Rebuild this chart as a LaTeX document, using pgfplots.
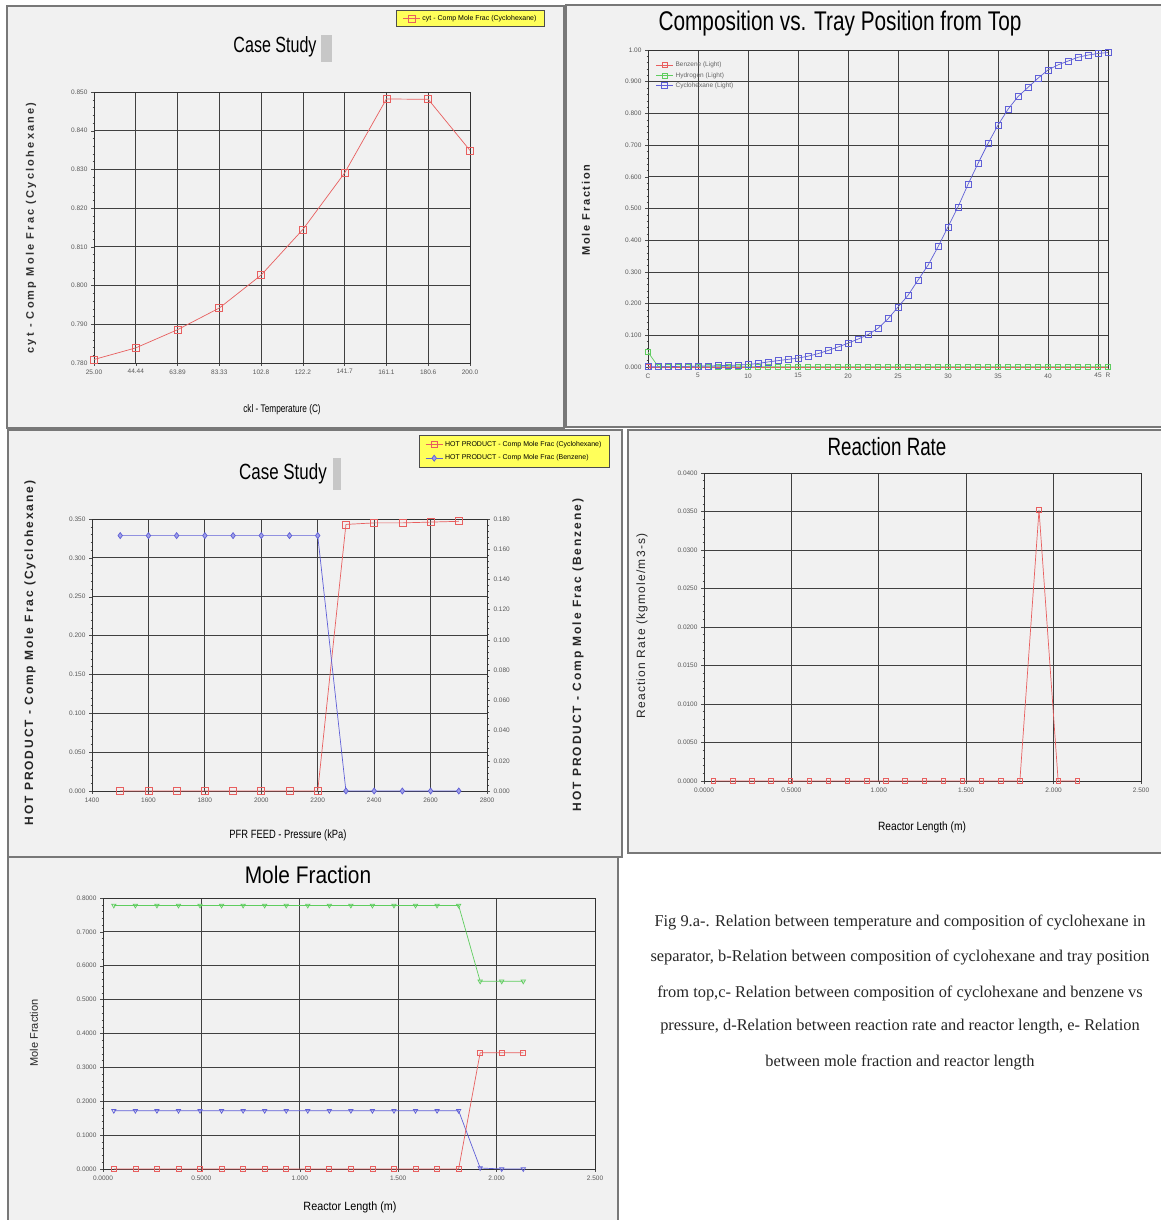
\documentclass[border=0pt]{standalone}
\usepackage{fontspec}
\setmainfont{Liberation Sans}
\newfontfamily\capfont{Liberation Serif}
\newfontfamily\spacedA[LetterSpace=20]{Liberation Sans}
\newfontfamily\spacedC[LetterSpace=16]{Liberation Sans}
\newfontfamily\spacedD[LetterSpace=10]{Liberation Sans}
\usepackage{pgfplots}
\pgfplotsset{compat=1.18}
\newcommand{\fsz}[1]{\fontsize{#1}{#1}\selectfont}
\definecolor{hred}{RGB}{232,95,95}
\definecolor{hblue}{RGB}{95,95,215}
\definecolor{hgreen}{RGB}{95,205,95}
\definecolor{hyellow}{RGB}{255,255,90}
\definecolor{panelbg}{RGB}{241,241,241}
\definecolor{frame}{RGB}{120,120,120}
\pgfplotsset{
  hy/.style={
    scale only axis,
    anchor=south west,
    clip=false,
    scaled ticks=false,
    axis line style={black!80, line width=0.6pt},
    grid=major,
    major grid style={black!75, line width=0.75pt},
    tick align=outside,
    tick pos=left,
    major tick length=3pt,
    minor tick length=1.5pt,
    tick style={black!70, line width=0.4pt},
    tick label style={font=\fsz{6.5}, text=black!65},
    minor y tick num=4,
    every axis plot/.append style={line width=0.7pt},
  },
}
\begin{document}
\begin{tikzpicture}[x=1pt,y=1pt]
\useasboundingbox (0,0) rectangle (1161,1220);
\clip (0,0) rectangle (1161,1220);
\fill[white] (0,0) rectangle (1161,1220);
% panel frames
\filldraw[fill=panelbg, draw=frame, line width=1.2pt] (7,792) rectangle (564,1214);
\filldraw[fill=panelbg, draw=frame, line width=1.2pt] (566,793) rectangle (1168,1215);
\filldraw[fill=panelbg, draw=frame, line width=1.2pt] (8,363) rectangle (622,790);
\filldraw[fill=panelbg, draw=frame, line width=1.2pt] (628,367) rectangle (1168,790);
\filldraw[fill=panelbg, draw=frame, line width=1.2pt] (8,-5) rectangle (618,363);

% ---------------- panel a ----------------
\begin{axis}[hy, at={(94pt,857pt)}, width=376pt, height=271pt,
  xmin=25, xmax=200, ymin=0.78, ymax=0.85,
  xtick={25,44.444,63.889,83.333,102.778,122.222,141.667,161.111,180.556,200},
  xticklabels={25.00,44.44,63.89,83.33,102.8,122.2,141.7,161.1,180.6,200.0},
  ytick={0.78,0.79,0.80,0.81,0.82,0.83,0.84,0.85},
  yticklabels={0.780,0.790,0.800,0.810,0.820,0.830,0.840,0.850},
  legend style={at={(1.199,1.303)}, anchor=north east, fill=hyellow, draw=black!70,
    font=\fsz{7}, inner xsep=6pt, inner ysep=3pt, line width=0.8pt},
  legend cell align=left]
\addplot[hred, mark=square, mark size=3.5pt] coordinates {
(25,0.7809) (44.444,0.7839) (63.889,0.7886) (83.333,0.7942) (102.778,0.8027)
(122.222,0.8145) (141.667,0.8291) (161.111,0.8482) (180.556,0.8481) (200,0.8349)};
\addlegendentry{cyt - Comp Mole Frac (Cyclohexane)}
\end{axis}
\node[font=\fsz{22}, xscale=0.73] at (275,1173) {Case Study};
\fill[black!22] (321,1158) rectangle (332,1185);
\node[rotate=90, font=\spacedA\fsz{11}\bfseries, text=black!80] at (31,992) {cyt - Comp Mole Frac (Cyclohexane)};
\node[font=\fsz{11}, xscale=0.75] at (282,810) {ckl - Temperature (C)};

% ---------------- panel b ----------------
\begin{axis}[hy, at={(648pt,853pt)}, width=460pt, height=317pt,
  xmin=0, xmax=46, ymin=0, ymax=1,
  xtick={0,5,10,15,20,25,30,35,40,45,46},
  xticklabels={C,5,10,15,20,25,30,35,40,45,R},
  ytick={0,0.1,0.2,0.3,0.4,0.5,0.6,0.7,0.8,0.9,1.0},
  yticklabels={0.000,0.100,0.200,0.300,0.400,0.500,0.600,0.700,0.800,0.900,1.00},
  legend style={at={(0.01,0.975)}, anchor=north west, fill=none, draw=none,
    font=\fsz{6.5}, text=black!60},
  legend cell align=left]
\addplot[hred, mark=square, mark size=2.5pt] coordinates {
(0,0.000) (1,0.000) (2,0.000) (3,0.000) (4,0.000) (5,0.000) (6,0.000) (7,0.000)
(8,0.000) (9,0.000) (10,0.000) (11,0.000) (12,0.000) (13,0.000) (14,0.000) (15,0.000)
(16,0.000) (17,0.000) (18,0.000) (19,0.000) (20,0.000) (21,0.000) (22,0.000) (23,0.000)
(24,0.000) (25,0.000) (26,0.000) (27,0.000) (28,0.000) (29,0.000) (30,0.000) (31,0.000)
(32,0.000) (33,0.000) (34,0.000) (35,0.000) (36,0.000) (37,0.000) (38,0.000) (39,0.000)
(40,0.000) (41,0.000) (42,0.000) (43,0.000) (44,0.000) (45,0.000) (46,0.000)};
\addlegendentry{Benzene (Light)}
\addplot[hgreen, mark=square, mark size=2.5pt] coordinates {
(0,0.047) (1,0.002) (2,0.002) (3,0.002) (4,0.002) (5,0.002) (6,0.002) (7,0.002)
(8,0.002) (9,0.002) (10,0.002) (11,0.002) (12,0.002) (13,0.002) (14,0.002) (15,0.002)
(16,0.002) (17,0.002) (18,0.002) (19,0.002) (20,0.002) (21,0.002) (22,0.002) (23,0.002)
(24,0.002) (25,0.002) (26,0.002) (27,0.002) (28,0.002) (29,0.002) (30,0.002) (31,0.002)
(32,0.002) (33,0.002) (34,0.002) (35,0.002) (36,0.002) (37,0.002) (38,0.002) (39,0.002)
(40,0.002) (41,0.002) (42,0.002) (43,0.002) (44,0.002) (45,0.002) (46,0.002)};
\addlegendentry{Hydrogen (Light)}
\addplot[hblue, mark=square, mark size=3pt] coordinates {
(0,0.001) (1,0.001) (2,0.001) (3,0.002) (4,0.002) (5,0.003) (6,0.003) (7,0.004)
(8,0.005) (9,0.006) (10,0.008) (11,0.011) (12,0.016) (13,0.020) (14,0.024) (15,0.028)
(16,0.034) (17,0.042) (18,0.052) (19,0.063) (20,0.075) (21,0.088) (22,0.102) (23,0.122)
(24,0.152) (25,0.189) (26,0.226) (27,0.274) (28,0.321) (29,0.379) (30,0.442) (31,0.505)
(32,0.576) (33,0.642) (34,0.705) (35,0.763) (36,0.813) (37,0.853) (38,0.882) (39,0.911)
(40,0.937) (41,0.953) (42,0.965) (43,0.977) (44,0.984) (45,0.989) (46,0.992)};
\addlegendentry{Cyclohexane (Light)}
\end{axis}
\node[font=\fsz{27}, xscale=0.77] at (840,1196) {Composition vs. Tray Position from Top};
\node[rotate=90, font=\spacedC\fsz{11}\bfseries, text=black!85] at (586,1010) {Mole Fraction};

% ---------------- panel c ----------------
\begin{axis}[hy, at={(92pt,429pt)}, width=395pt, height=272pt,
  xmin=1400, xmax=2800, ymin=0, ymax=0.35,
  xtick={1400,1600,1800,2000,2200,2400,2600,2800},
  xticklabels={1400,1600,1800,2000,2200,2400,2600,2800},
  ytick={0,0.05,0.1,0.15,0.2,0.25,0.3,0.35},
  yticklabels={0.000,0.050,0.100,0.150,0.200,0.250,0.300,0.350}]
\addplot[hred, mark=square, mark size=3.5pt] coordinates {
(1500,0) (1600,0) (1700,0) (1800,0) (1900,0) (2000,0) (2100,0) (2200,0)
(2300,0.343) (2400,0.345) (2500,0.345) (2600,0.346) (2700,0.347)};
\end{axis}
\begin{axis}[hy, at={(92pt,429pt)}, width=395pt, height=272pt,
  grid=none, axis x line=none, axis y line*=right, ytick pos=right,
  xmin=1400, xmax=2800, ymin=0, ymax=0.18,
  ytick={0,0.02,0.04,0.06,0.08,0.1,0.12,0.14,0.16,0.18},
  yticklabels={0.000,0.020,0.040,0.060,0.080,0.100,0.120,0.140,0.160,0.180},
  legend style={at={(1.311,1.309)}, anchor=north east, fill=hyellow, draw=black!70,
    font=\fsz{7}, inner xsep=6pt, inner ysep=4pt, row sep=3pt, line width=0.8pt},
  legend cell align=left]
\addlegendimage{hred, mark=square, mark size=3pt, line width=0.7pt}
\addlegendentry{HOT PRODUCT - Comp Mole Frac (Cyclohexane)}
\addplot[hblue, mark=diamond*, mark size=3pt, mark options={fill=hblue!60}] coordinates {
(1500,0.169) (1600,0.169) (1700,0.169) (1800,0.169) (1900,0.169) (2000,0.169) (2100,0.169) (2200,0.169)
(2300,0) (2400,0) (2500,0) (2600,0) (2700,0)};
\addlegendentry{HOT PRODUCT - Comp Mole Frac (Benzene)}
\end{axis}
\node[font=\fsz{22}, xscale=0.77] at (283,746) {Case Study};
\fill[black!22] (333,730) rectangle (341,762);
\node[rotate=90, font=\spacedC\fsz{12}\bfseries, text=black!85] at (30,567) {HOT PRODUCT - Comp Mole Frac (Cyclohexane)};
\node[rotate=90, font=\spacedC\fsz{12}\bfseries, text=black!85] at (578,565) {HOT PRODUCT - Comp Mole Frac (Benzene)};
\node[font=\fsz{12}, xscale=0.78] at (288,385) {PFR FEED - Pressure (kPa)};

% ---------------- panel d ----------------
\begin{axis}[hy, at={(704pt,439pt)}, width=437pt, height=308pt,
  xmin=0, xmax=2.5, ymin=0, ymax=0.04,
  xtick={0,0.5,1,1.5,2,2.5},
  xticklabels={0.0000,0.5000,1.000,1.500,2.000,2.500},
  ytick={0,0.005,0.01,0.015,0.02,0.025,0.03,0.035,0.04},
  yticklabels={0.0000,0.0050,0.0100,0.0150,0.0200,0.0250,0.0300,0.0350,0.0400}]
\addplot[hred, mark=square, mark size=2.2pt] coordinates {
(0.055,0) (0.1645,0) (0.274,0) (0.3835,0) (0.493,0) (0.6025,0) (0.712,0) (0.8215,0)
(0.931,0) (1.0405,0) (1.150,0) (1.2595,0) (1.369,0) (1.4785,0) (1.588,0) (1.6975,0)
(1.807,0) (1.9165,0.0352) (2.026,0) (2.1355,0)};
\end{axis}
\node[font=\fsz{25}, xscale=0.75] at (887,773) {Reaction Rate};
\node[rotate=90, font=\spacedD\fsz{12}, text=black!85] at (642,594) {Reaction Rate (kgmole/m3-s)};
\node[font=\fsz{12}, xscale=0.85] at (922,393) {Reactor Length (m)};

% ---------------- panel e ----------------
\begin{axis}[hy, at={(103pt,51pt)}, width=492pt, height=271pt,
  xmin=0, xmax=2.5, ymin=0, ymax=0.8,
  xtick={0,0.5,1,1.5,2,2.5},
  xticklabels={0.0000,0.5000,1.000,1.500,2.000,2.500},
  ytick={0,0.1,0.2,0.3,0.4,0.5,0.6,0.7,0.8},
  yticklabels={0.0000,0.1000,0.2000,0.3000,0.4000,0.5000,0.6000,0.7000,0.8000}]
\addplot[hgreen, mark=triangle, mark size=2.5pt, mark options={rotate=180}] coordinates {
(0.055,0.778) (0.1645,0.778) (0.274,0.778) (0.3835,0.778) (0.493,0.778) (0.6025,0.778) (0.712,0.778) (0.8215,0.778)
(0.931,0.778) (1.0405,0.778) (1.150,0.778) (1.2595,0.778) (1.369,0.778) (1.4785,0.778) (1.588,0.778) (1.6975,0.778)
(1.807,0.778) (1.9165,0.554) (2.026,0.554) (2.1355,0.554)};
\addplot[hblue, mark=triangle, mark size=2.5pt, mark options={rotate=180}] coordinates {
(0.055,0.172) (0.1645,0.172) (0.274,0.172) (0.3835,0.172) (0.493,0.172) (0.6025,0.172) (0.712,0.172) (0.8215,0.172)
(0.931,0.172) (1.0405,0.172) (1.150,0.172) (1.2595,0.172) (1.369,0.172) (1.4785,0.172) (1.588,0.172) (1.6975,0.172)
(1.807,0.172) (1.9165,0.003) (2.026,0) (2.1355,0)};
\addplot[hred, mark=square, mark size=2.5pt] coordinates {
(0.055,0) (0.1645,0) (0.274,0) (0.3835,0) (0.493,0) (0.6025,0) (0.712,0) (0.8215,0)
(0.931,0) (1.0405,0) (1.150,0) (1.2595,0) (1.369,0) (1.4785,0) (1.588,0) (1.6975,0)
(1.807,0) (1.9165,0.343) (2.026,0.343) (2.1355,0.343)};
\end{axis}
\node[font=\fsz{24}, xscale=0.87] at (308,345) {Mole Fraction};
\node[rotate=90, font=\fsz{11}, text=black!85] at (34,187) {Mole Fraction};
\node[font=\fsz{12}, xscale=0.9] at (350,13) {Reactor Length (m)};

% ---------------- caption ----------------
\begin{scope}[every node/.style={font=\capfont\fsz{16.4}, text=black!85}]
\node at (900,297) {Fig 9.a-. Relation between temperature and composition of cyclohexane in};
\node at (900,262) {separator, b-Relation between composition of cyclohexane and tray position};
\node at (900,227) {from top,c- Relation between composition of cyclohexane and benzene vs};
\node at (900,193) {pressure, d-Relation between reaction rate and reactor length, e- Relation};
\node at (900,158) {between mole fraction and reactor length};
\end{scope}
\end{tikzpicture}
\end{document}
